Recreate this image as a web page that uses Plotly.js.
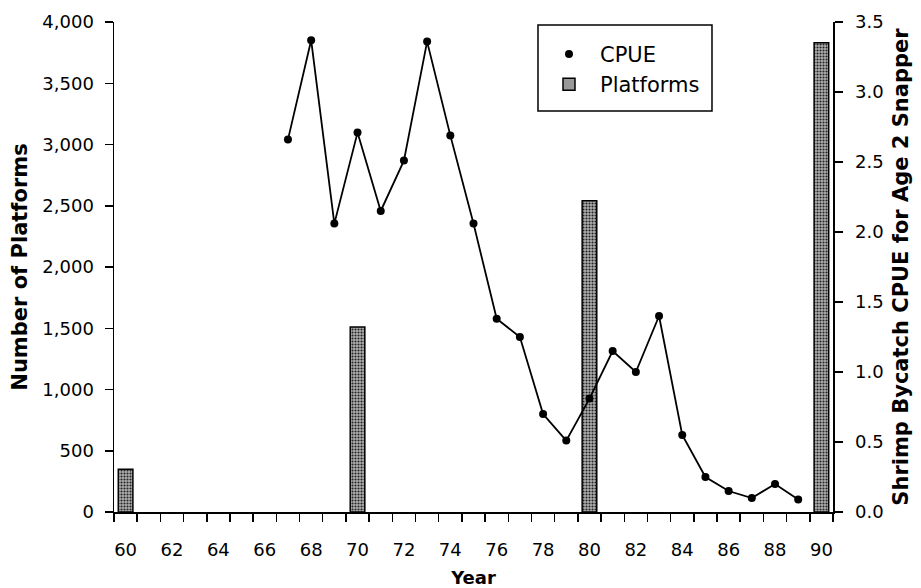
<!DOCTYPE html>
<html>
<head>
<meta charset="utf-8">
<script src="https://cdn.plot.ly/plotly-3.0.1.min.js"></script>
<style>html,body{margin:0;padding:0;background:#fff;}#chart{width:921px;height:588px;}</style>
</head>
<body>
<div id="chart"></div>
<script>
// Data
var platformYears = [60, 70, 80, 90];
var platformCounts = [350, 1510, 2540, 3830];

var cpueYears = [67, 68, 69, 70, 71, 72, 73, 74, 75, 76, 77, 78, 79, 80, 81, 82, 83, 84, 85, 86, 87, 88, 89];
var cpueValues = [2.66, 3.37, 2.06, 2.71, 2.15, 2.51, 3.36, 2.69, 2.06, 1.38, 1.25, 0.70, 0.51, 0.81, 1.15, 1.00, 1.40, 0.55, 0.25, 0.15, 0.10, 0.20, 0.09];

var xTickVals = [60, 62, 64, 66, 68, 70, 72, 74, 76, 78, 80, 82, 84, 86, 88, 90];
var xTickText = xTickVals.map(String);
var xBoundaryTicks = [];
for (var i = 0; i <= 31; i++) { xBoundaryTicks.push(59.5 + i); }

var FONT = '"DejaVu Sans", "Liberation Sans", Arial, sans-serif';

var traces = [
  {
    type: 'bar',
    x: platformYears,
    y: platformCounts,
    width: 0.63,
    yaxis: 'y',
    name: 'Platforms',
    showlegend: false,
    marker: {
      color: '#999999',
      line: {color: '#000000', width: 1.5},
      pattern: {shape: '.', size: 3, solidity: 0.4, fgcolor: '#222222', bgcolor: '#b0b0b0'}
    }
  },
  {
    type: 'scatter',
    mode: 'lines+markers',
    x: cpueYears,
    y: cpueValues,
    yaxis: 'y2',
    name: 'CPUE',
    showlegend: false,
    line: {color: '#000000', width: 1.8},
    marker: {color: '#000000', size: 8}
  },
  {
    type: 'scatter',
    mode: 'markers',
    x: [null],
    y: [null],
    yaxis: 'y2',
    name: 'CPUE',
    legendrank: 1,
    marker: {color: '#000000', size: 8}
  },
  {
    type: 'bar',
    x: [null],
    y: [null],
    yaxis: 'y',
    name: 'Platforms',
    legendrank: 2,
    marker: {color: '#999999', line: {color: '#000000', width: 1.5}}
  }
];

var layout = {
  width: 921,
  height: 588,
  margin: {l: 114, r: 88, t: 22, b: 76, pad: 0},
  paper_bgcolor: '#ffffff',
  plot_bgcolor: '#ffffff',
  font: {family: FONT, color: '#000000', size: 18},
  showlegend: true,
  legend: {
    x: 0.5897, y: 0.976, xanchor: 'left', yanchor: 'top',
    borderwidth: 0, bgcolor: 'rgba(255,255,255,0)',
    font: {family: FONT, size: 21, color: '#000000'},
    itemwidth: 52
  },
  shapes: [
    {type: 'rect', xref: 'paper', yref: 'paper', x0: 0.5897, x1: 0.8317, y0: 0.8184, y1: 0.9939,
     line: {color: '#000000', width: 1.5}, fillcolor: 'rgba(255,255,255,1)', layer: 'above'}
  ],
  xaxis: {
    range: [59.5, 90.5],
    tickmode: 'array',
    tickvals: xTickVals,
    ticktext: xTickText,
    ticks: '',
    ticklabelstandoff: 21,
    showgrid: false,
    zeroline: false,
    showline: true,
    linecolor: '#000000',
    linewidth: 1.5,
    tickfont: {family: FONT, size: 18, color: '#000000'},
    minor: {tickmode: 'array', tickvals: xBoundaryTicks, ticks: 'outside', ticklen: 8, tickwidth: 1.5, tickcolor: '#000000', showgrid: false},
    title: {text: '<b>Year</b>', font: {family: FONT, size: 18, color: '#000000'}, standoff: 13}
  },
  yaxis: {
    range: [0, 4000],
    tickmode: 'linear',
    tick0: 0,
    dtick: 500,
    tickformat: ',d',
    ticks: 'outside',
    ticklen: 8,
    tickwidth: 1.5,
    tickcolor: '#000000',
    ticklabelstandoff: 7,
    showgrid: false,
    zeroline: false,
    showline: true,
    linecolor: '#000000',
    linewidth: 1.5,
    tickfont: {family: FONT, size: 18, color: '#000000'},
    title: {text: '<b>Number of Platforms</b>', font: {family: FONT, size: 21, color: '#000000'}, standoff: 9}
  },
  yaxis2: {
    overlaying: 'y',
    side: 'right',
    range: [0, 3.5],
    tickmode: 'linear',
    tick0: 0,
    dtick: 0.5,
    tickformat: '.1f',
    ticks: 'outside',
    ticklen: 8,
    tickwidth: 1.5,
    tickcolor: '#000000',
    ticklabelstandoff: 9,
    showgrid: false,
    zeroline: false,
    showline: true,
    linecolor: '#000000',
    linewidth: 1.5,
    tickfont: {family: FONT, size: 18, color: '#000000'},
    title: {text: '<b>Shrimp Bycatch CPUE for Age 2 Snapper</b>', font: {family: FONT, size: 21, color: '#000000'}, standoff: 10}
  }
};

Plotly.newPlot('chart', traces, layout, {displayModeBar: false, staticPlot: true});
</script>
</body>
</html>
